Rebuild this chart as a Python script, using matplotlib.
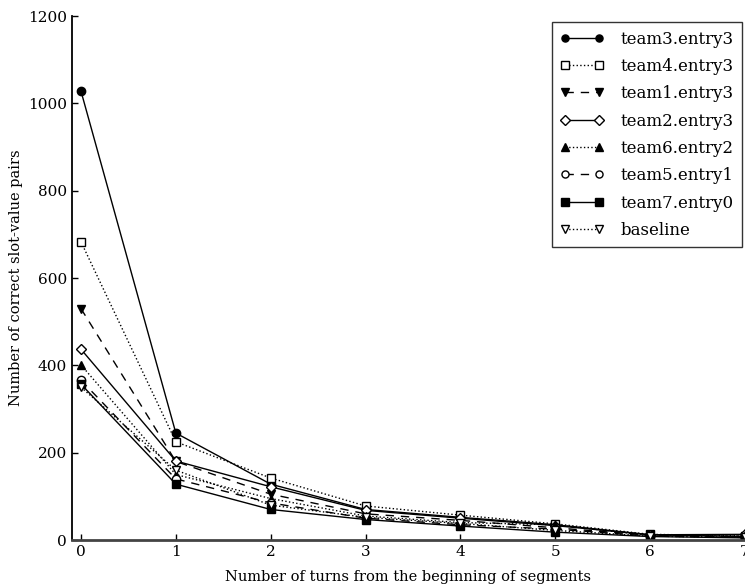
import matplotlib
matplotlib.use("Agg")
import matplotlib.pyplot as plt

turns = [0, 1, 2, 3, 4, 5, 6, 7]
team3_entry3 = [1028, 245, 128, 70, 52, 35, 12, 8]
team4_entry3 = [683, 225, 142, 78, 57, 37, 13, 10]
team1_entry3 = [530, 180, 105, 60, 45, 28, 11, 7]
team2_entry3 = [437, 181, 122, 68, 50, 33, 12, 13]
team6_entry2 = [401, 150, 95, 55, 40, 35, 10, 12]
team5_entry1 = [366, 140, 85, 50, 35, 25, 9, 6]
team7_entry0 = [357, 128, 70, 47, 32, 18, 8, 5]
baseline = [350, 160, 80, 52, 38, 22, 9, 6]

series = [
    ("team3.entry3", team3_entry3, "-", "o", "black"),
    ("team4.entry3", team4_entry3, ":", "s", "white"),
    ("team1.entry3", team1_entry3, (0, (6, 5)), "v", "black"),
    ("team2.entry3", team2_entry3, "-", "D", "white"),
    ("team6.entry2", team6_entry2, ":", "^", "black"),
    ("team5.entry1", team5_entry1, (0, (6, 5)), "o", "white"),
    ("team7.entry0", team7_entry0, "-", "s", "black"),
    ("baseline", baseline, ":", "v", "white"),
]

plt.rcParams['font.family'] = ['DejaVu Serif']
fig = plt.figure(figsize=(7.45, 5.87), dpi=100)
ax = fig.add_axes([0.0966, 0.080, 0.9034, 0.8927])

for name, vals, ls, mk, fc in series:
    ms = 6 if mk != "D" else 5.5
    ax.plot(turns, vals, linestyle=ls, marker=mk, color="black", markerfacecolor=fc,
            markeredgecolor="black", markersize=ms, linewidth=1.0, label=name)

ax.set_xlim(-0.095, 7.0)
ax.set_ylim(0, 1200)
ax.set_xticks(turns)
ax.set_yticks([0, 200, 400, 600, 800, 1000, 1200])
ax.spines['top'].set_visible(False)
ax.spines['right'].set_visible(False)
ax.spines['left'].set_linewidth(1.3)
ax.spines['bottom'].set_linewidth(2.0)
ax.spines['bottom'].set_color('#444444')
ax.tick_params(direction='in', length=4, width=1, labelsize=11)
ax.set_xlabel("Number of turns from the beginning of segments", fontsize=10.5, labelpad=8)
ax.set_ylabel("Number of correct slot-value pairs", fontsize=10.5, labelpad=4)

leg = ax.legend(loc='upper right', bbox_to_anchor=(0.995, 0.988), numpoints=2, fontsize=12,
                frameon=True, fancybox=False, edgecolor='black', handlelength=2.6,
                handletextpad=1.0, borderpad=0.5, labelspacing=0.62, borderaxespad=0.0,
                markerscale=0.85)
leg.get_frame().set_linewidth(1.0)

fig.savefig("out.png", dpi=100)
